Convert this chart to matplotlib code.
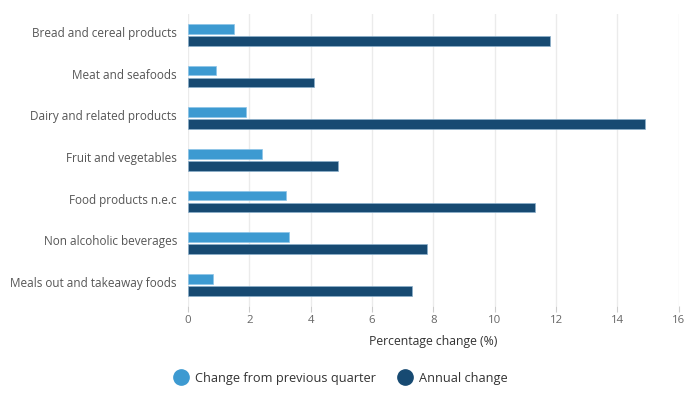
import matplotlib.pyplot as plt
import numpy as np

categories = ['Bread and cereal products', 'Meat and seafoods', 'Dairy and related products',
              'Fruit and vegetables', 'Food products n.e.c', 'Non alcoholic beverages',
              'Meals out and takeaway foods']
quarterly = [1.5, 0.9, 1.9, 2.4, 3.2, 3.3, 0.8]
annual = [11.8, 4.1, 14.9, 4.9, 11.3, 7.8, 7.3]
xticks = [0, 2, 4, 6, 8, 10, 12, 14, 16]

plt.rcParams['font.family'] = ['Open Sans', 'DejaVu Sans']

c_q = '#3d9ad1'
c_a = '#174a72'

fig = plt.figure(figsize=(7, 3.98), dpi=100)
ax = fig.add_axes([0.2686, 0.232, 0.701, 0.733])

y = np.arange(len(categories))
h = 0.23
off = 0.145
ax.barh(y - off, quarterly, height=h, color=c_q, edgecolor='#8cc4e8', linewidth=0.5,
        label='Change from previous quarter', zorder=3)
ax.barh(y + off, annual, height=h, color=c_a, edgecolor='#8cb0cc', linewidth=0.5,
        label='Annual change', zorder=3)

ax.set_ylim(6.5, -0.5)
ax.set_xlim(0, 16)
ax.set_xticks(xticks)
ax.set_yticks(y - 0.07)
ax.set_yticklabels(categories)
ax.grid(axis='x', color='#ebebeb', linewidth=1, zorder=0)
for s in ax.spines.values():
    s.set_visible(False)
ax.tick_params(axis='y', length=0, pad=8, labelsize=8.5, labelcolor='#555555')
ax.tick_params(axis='x', length=4, color='#cccccc', pad=3, labelsize=8.2, labelcolor='#666666')
ax.set_xlabel('Percentage change (%)', fontsize=8.8, color='#333333', labelpad=6)

leg = fig.legend(handles=[
    plt.Line2D([], [], marker='o', linestyle='none', markersize=11, color=c_q),
    plt.Line2D([], [], marker='o', linestyle='none', markersize=11, color=c_a)],
    labels=['Change from previous quarter', 'Annual change'],
    loc='center', bbox_to_anchor=(0.483, 0.05), ncol=2, frameon=False,
    prop={'size': 9.2, 'weight': 'medium'}, handletextpad=0.1, columnspacing=1.3)
for t in leg.get_texts():
    t.set_color('#333333')

fig.savefig('out.png', dpi=100)
